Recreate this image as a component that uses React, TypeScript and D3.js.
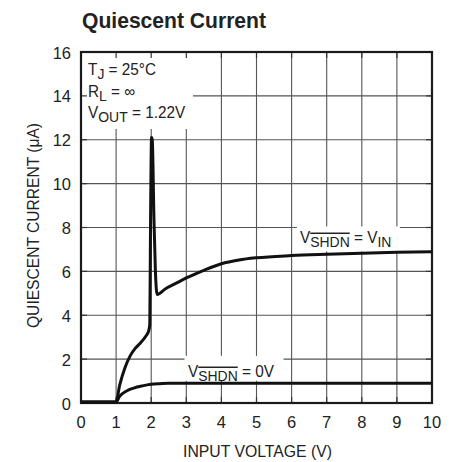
import * as d3 from 'd3';
import { default as React, useRef, useEffect } from 'react';

const width = 460;
const height = 462;
const plot = { left: 81, right: 432, top: 52, bottom: 403 };

// V_SHDN = V_IN curve
const vinX = [0, 1.0, 1.1, 1.25, 1.4, 1.55, 1.7, 1.85, 1.93, 1.96, 1.98, 2.01, 2.03, 2.08, 2.12, 2.17, 2.4, 2.7, 3.0, 3.5, 4.0, 4.5, 5.0, 6.0, 7.0, 8.0, 9.0, 10.0];
const vinY = [0.05, 0.05, 0.8, 1.6, 2.15, 2.5, 2.75, 3.05, 3.3, 3.6, 8.0, 12.1, 12.0, 8.3, 6.0, 4.95, 5.2, 5.45, 5.7, 6.05, 6.35, 6.52, 6.62, 6.72, 6.78, 6.83, 6.87, 6.9];

// V_SHDN = 0V curve
const offX = [0, 1.0, 1.1, 1.3, 1.5, 1.75, 2.0, 2.25, 2.5, 3.0, 10.0];
const offY = [0.05, 0.05, 0.3, 0.55, 0.68, 0.78, 0.85, 0.88, 0.9, 0.9, 0.9];

const xTicks = [0, 1, 2, 3, 4, 5, 6, 7, 8, 9, 10];
const yTicks = [0, 2, 4, 6, 8, 10, 12, 14, 16];

const FONT = "'Liberation Sans', Arial, Helvetica, sans-serif";
const INK = "#222";

const QuiescentCurrent = () => {
  const svgRef = useRef(null);

  useEffect(() => {
    const x = d3.scaleLinear().domain([0, 10]).range([plot.left, plot.right]);
    const y = d3.scaleLinear().domain([0, 16]).range([plot.bottom, plot.top]);

    const svg = d3.select(svgRef.current);
    svg.selectAll("*").remove();
    svg.style("font-family", FONT);

    svg.append("rect").attr("width", width).attr("height", height).attr("fill", "#fff");

    // grid
    const grid = svg.append("g").attr("stroke", "#555").attr("stroke-width", 1.1);
    xTicks.slice(1, -1).forEach(t => {
      grid.append("line")
        .attr("x1", x(t)).attr("x2", x(t))
        .attr("y1", y(16)).attr("y2", y(0));
    });
    yTicks.slice(1, -1).forEach(t => {
      grid.append("line")
        .attr("x1", x(0)).attr("x2", x(10))
        .attr("y1", y(t)).attr("y2", y(t));
    });

    // white boxes behind labels
    const boxes = [
      [x(0) + 1, y(16) + 1, 111, 76],
      [x(6.15), y(8.05), 103, 25],
      [x(2.95), y(2.15), 99, 25],
    ];
    boxes.forEach(([bx, by, bw, bh]) => {
      svg.append("rect")
        .attr("x", bx).attr("y", by)
        .attr("width", bw).attr("height", bh)
        .attr("fill", "#fff");
    });

    // short inner ticks
    const ticks = svg.append("g").attr("stroke", "#333").attr("stroke-width", 1.2);
    xTicks.slice(1, -1).forEach(t => {
      ticks.append("line").attr("x1", x(t)).attr("x2", x(t)).attr("y1", y(16)).attr("y2", y(16) + 6);
      ticks.append("line").attr("x1", x(t)).attr("x2", x(t)).attr("y1", y(0)).attr("y2", y(0) - 6);
    });
    yTicks.slice(1, -1).forEach(t => {
      ticks.append("line").attr("x1", x(0)).attr("x2", x(0) + 6).attr("y1", y(t)).attr("y2", y(t));
      ticks.append("line").attr("x1", x(10)).attr("x2", x(10) - 6).attr("y1", y(t)).attr("y2", y(t));
    });

    // frame
    svg.append("rect")
      .attr("x", x(0)).attr("y", y(16))
      .attr("width", x(10) - x(0)).attr("height", y(0) - y(16))
      .attr("fill", "none")
      .attr("stroke", "#1a1a1a")
      .attr("stroke-width", 2.2);

    const line = d3.line()
      .x(d => x(d[0]))
      .y(d => y(d[1]))
      .curve(d3.curveMonotoneX);

    [[vinX, vinY], [offX, offY]].forEach(([xs, ys]) => {
      svg.append("path")
        .attr("d", line(xs.map((v, i) => [v, ys[i]])))
        .attr("fill", "none")
        .attr("stroke", "#111")
        .attr("stroke-width", 3)
        .attr("stroke-linejoin", "round");
    });

    // tick labels
    svg.append("g")
      .selectAll("text")
      .data(xTicks)
      .join("text")
      .attr("x", d => x(d))
      .attr("y", 428)
      .attr("text-anchor", "middle")
      .attr("font-size", 16.5)
      .attr("fill", INK)
      .text(d => d);

    svg.append("g")
      .selectAll("text")
      .data(yTicks)
      .join("text")
      .attr("x", 71)
      .attr("y", d => y(d) + 6.5)
      .attr("text-anchor", "end")
      .attr("font-size", 16.5)
      .attr("fill", INK)
      .text(d => d);

    // titles
    svg.append("text")
      .attr("x", 82).attr("y", 28)
      .attr("font-size", 22)
      .attr("font-weight", "bold")
      .attr("textLength", 184)
      .attr("lengthAdjust", "spacingAndGlyphs")
      .attr("fill", INK)
      .text("Quiescent Current");

    svg.append("text")
      .attr("x", 183).attr("y", 457)
      .attr("font-size", 16.5)
      .attr("textLength", 149)
      .attr("lengthAdjust", "spacingAndGlyphs")
      .attr("fill", INK)
      .text("INPUT VOLTAGE (V)");

    svg.append("text")
      .attr("transform", `translate(39,328) rotate(-90)`)
      .attr("font-size", 16.5)
      .attr("textLength", 205)
      .attr("lengthAdjust", "spacingAndGlyphs")
      .attr("fill", INK)
      .text("QUIESCENT CURRENT (\u03BCA)");

    // annotation helper: parts = [text, kind] where kind is '' | 'sub' | 'subOver'
    const label = (px, py, parts) => {
      const t = svg.append("text")
        .attr("transform", `translate(${px},${py}) scale(0.93,1)`)
        .attr("font-size", 16.5)
        .attr("fill", INK);
      let low = false;
      parts.forEach(([s, kind]) => {
        const sp = t.append("tspan").text(s);
        const isSub = kind === 'sub' || kind === 'subOver';
        if (isSub && !low) sp.attr("dy", 4);
        if (!isSub && low) sp.attr("dy", -4);
        if (isSub) sp.attr("font-size", 15);
        low = isSub;
        if (kind === 'subOver') sp.style("text-decoration", "overline");
      });
    };

    label(88, 75, [["T", ''], ["J", 'sub'], [" = 25\u00B0C", '']]);
    label(88, 97, [["R", ''], ["L", 'sub'], [" = \u221E", '']]);
    label(88, 118, [["V", ''], ["OUT", 'sub'], [" = 1.22V", '']]);
    label(300, 243, [["V", ''], ["SHDN", 'subOver'], [" = V", ''], ["IN", 'sub']]);
    label(188, 377, [["V", ''], ["SHDN", 'subOver'], [" = 0V", '']]);
  }, []);

  return <svg ref={svgRef} width={width} height={height} style={{ position: 'absolute', left: 0, top: 0 }} />;
};

export default function App() {
  return <QuiescentCurrent />;
}
